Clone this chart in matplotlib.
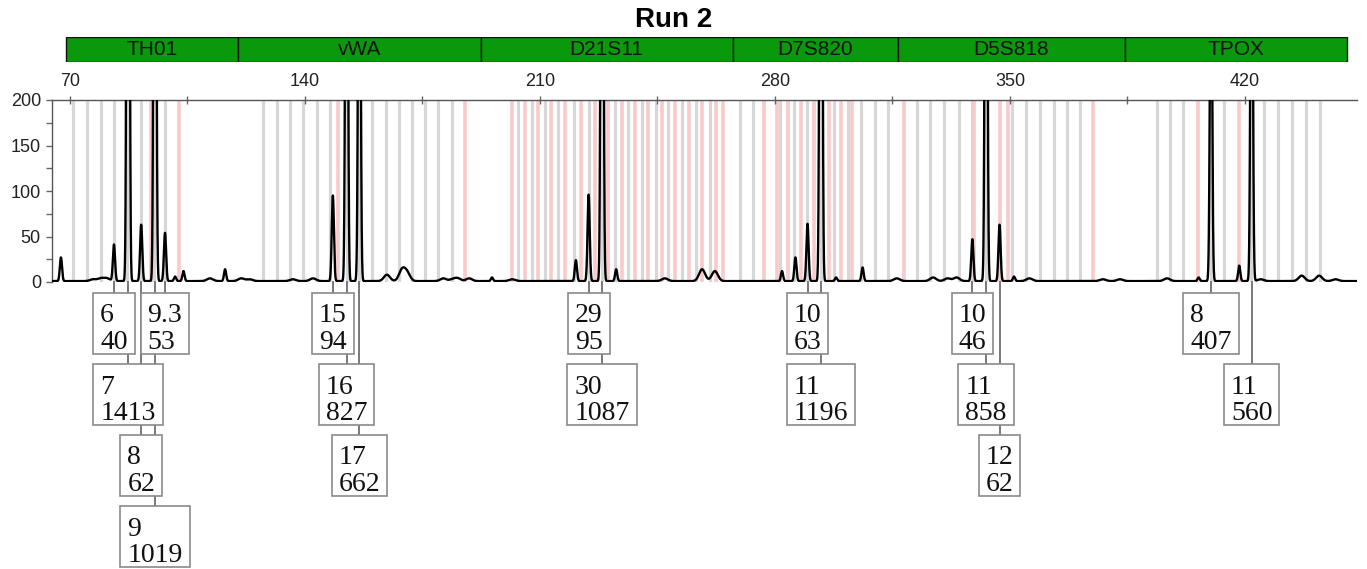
import numpy as np
import matplotlib
matplotlib.use("Agg")
import matplotlib.pyplot as plt
from matplotlib.patches import Rectangle

# ---------------- data ----------------
title = "Run 2"
locus_names = ["TH01", "vWA", "D21S11", "D7S820", "D5S818", "TPOX"]
locus_starts = [68.8, 120.0, 192.3, 267.4, 316.6, 384.3]
locus_ends = [120.0, 192.3, 267.4, 316.6, 384.3, 450.3]

x_ticks_major = [70, 140, 210, 280, 350, 420]
x_ticks_minor = [105, 175, 245, 315, 385]
y_ticks_major = [0, 50, 100, 150, 200]
y_ticks_minor = [25, 75, 125, 175]

allele_names = ["6", "7", "8", "9", "9.3", "15", "16", "17", "29", "30",
                "10", "11", "10", "11", "12", "8", "11"]
allele_sizes = [83.1, 87.3, 91.2, 95.3, 98.3, 148.3, 152.4, 156.2, 224.5, 228.5,
                289.7, 293.7, 338.8, 342.9, 346.9, 409.9, 422.0]
allele_heights = [40, 1413, 62, 1019, 53, 94, 827, 662, 95, 1087,
                  63, 1196, 46, 858, 62, 407, 560]

# unlabeled sharp peaks (stutter / artefacts)
other_sizes = [67.3, 101.3, 103.8, 116.2, 220.7, 232.7, 195.7, 282.1, 286.1,
               298.2, 306.1, 351.2, 406.2, 418.3]
other_heights = [26, 5, 11, 13, 23, 13, 4, 11, 26, 4, 15, 5, 4, 17]

# broad low baseline bumps
bump_sizes = [76.9, 79.2, 81.0, 111.7, 121.0, 123.5, 136.4, 142.4, 164.4, 168.9,
              170.4, 181.2, 184.0, 185.5, 188.9, 201.7, 247.2, 258.3, 262.1, 316.3,
              327.1, 331.4, 334.1, 355.8, 377.7, 382.8, 396.8, 424.7, 436.9, 442.1,
              447.0]
bump_heights = [2, 3, 3, 3, 3, 2, 2, 3, 7, 12, 9, 3, 2, 3, 3, 2, 3, 13, 11, 3,
                4, 3, 4, 3, 2, 2, 3, 2, 6, 6, 2]

gray_bins = [71.04, 75.06, 79.09, 83.11, 87.13, 91.15, 95.17, 98.45,
             127.64, 131.66, 135.54, 139.56, 143.58, 147.60, 152.37, 156.24, 160.11,
             163.99, 167.86, 171.88, 175.90, 179.77, 183.79,
             203.46, 207.48, 211.50, 215.37, 220.14, 224.46, 228.48, 232.35, 236.37,
             240.39, 244.42, 248.29, 252.31, 256.48, 260.65,
             269.59, 273.46, 281.65, 285.67, 289.69, 293.72, 297.74, 301.76, 305.78,
             309.80, 313.82,
             322.31, 326.19, 330.36, 334.68, 338.85, 342.87, 350.61, 354.78, 358.95,
             362.98, 367.00, 370.87,
             393.81, 397.68, 401.70, 409.89, 413.77, 421.96, 425.83, 430.00, 434.17,
             438.34, 442.36]
pink_bins = [94.13, 102.47, 149.98, 187.67,
             201.67, 205.54, 209.41, 213.43, 217.46, 222.22, 226.39, 230.41, 234.29,
             238.31, 242.33, 246.35, 250.22, 254.25, 258.27, 262.44, 264.52,
             276.74, 280.61, 283.89, 287.76, 291.63, 296.10, 299.67, 302.95, 318.44,
             339.29, 347.04, 349.42, 374.74, 406.02, 418.09]

# ---------------- layout ----------------
W, H = 1367, 569
XLIM = (64.64, 453.39)
PX_PER_BP = 1305 / (XLIM[1] - XLIM[0])

plt.rcParams["font.family"] = ["Liberation Sans", "DejaVu Sans"]
fig = plt.figure(figsize=(W / 100, H / 100), dpi=100)

# main electropherogram axes
ax = fig.add_axes([52 / W, 1 - 282 / H, 1305 / W, 182 / H])
ax.set_xlim(*XLIM)
ax.set_ylim(0, 200)

for b in gray_bins:
    ax.axvline(b, color="#d7d7d7", lw=2.3, zorder=1)
for b in pink_bins:
    ax.axvline(b, color="#f8caca", lw=2.6, zorder=1)

xs = np.linspace(XLIM[0], XLIM[1], 40000)
trace = np.full_like(xs, 1.0)
for s, h in zip(allele_sizes, allele_heights):
    trace += h * np.exp(-0.5 * ((xs - s) / 0.32) ** 2)
for s, h in zip(other_sizes, other_heights):
    trace += h * np.exp(-0.5 * ((xs - s) / 0.32) ** 2)
for s, h in zip(bump_sizes, bump_heights):
    trace += h * np.exp(-0.5 * ((xs - s) / 0.9) ** 2)
ax.plot(xs, trace, color="black", lw=1.7, zorder=3, solid_joinstyle="round")

ax.xaxis.tick_top()
ax.set_xticks(x_ticks_major)
ax.set_xticks(x_ticks_minor, minor=True)
ax.set_xticklabels([str(v) for v in x_ticks_major])
ax.tick_params(axis="x", which="both", direction="inout", length=6, width=1,
               color="#666666", labelsize=13, pad=4, labelcolor="#222222")
ax.set_yticks(y_ticks_major)
ax.set_yticks(y_ticks_minor, minor=True)
ax.set_yticklabels([str(v) for v in y_ticks_major])
ax.tick_params(axis="y", which="both", direction="out", length=4, width=1,
               color="#666666", labelsize=13, pad=4, labelcolor="#222222")
for side in ["right", "bottom"]:
    ax.spines[side].set_visible(False)
for side in ["top", "left"]:
    ax.spines[side].set_color("#555555")
    ax.spines[side].set_linewidth(1.0)

# locus bar
bar_ax = fig.add_axes([52 / W, 1 - 62.3 / H, 1305 / W, 25.3 / H])
bar_ax.set_xlim(*XLIM)
bar_ax.set_ylim(0, 1)
bar_ax.axis("off")
for name, s, e in zip(locus_names, locus_starts, locus_ends):
    bar_ax.add_patch(Rectangle((s, 0), e - s, 1, facecolor="#0a990a",
                               edgecolor="#111111", lw=1.0))
    bar_ax.text((s + e) / 2, 0.5, name, ha="center", va="center",
                fontsize=15, color="#111111")

fig.text(674 / W, 1 - 20 / H, title, ha="center", va="center",
         fontsize=20, fontweight="bold")

# allele label boxes
lab_ax = fig.add_axes([52 / W, 0, 1305 / W, 287 / H])
lab_ax.set_xlim(*XLIM)
lab_ax.set_ylim(287, 0)
lab_ax.axis("off")

renderer = fig.canvas.get_renderer()
ROW_TOP0, ROW_STEP, BOX_H = 11, 71, 61
row_end = []
order = np.argsort(allele_sizes)
for i in order:
    name, size, h = allele_names[i], allele_sizes[i], allele_heights[i]
    t1 = lab_ax.text(0, 0, name, fontsize=20, family="Liberation Serif",
                     color="#111111", ha="left", va="baseline", zorder=5)
    t2 = lab_ax.text(0, 0, str(h), fontsize=20, family="Liberation Serif",
                     color="#111111", ha="left", va="baseline", zorder=5)
    w_px = max(t1.get_window_extent(renderer).width,
               t2.get_window_extent(renderer).width) + 14
    cx_px = (size - XLIM[0]) * PX_PER_BP
    left_px, right_px = cx_px - w_px / 2, cx_px + w_px / 2
    row = 0
    while row < len(row_end) and left_px < row_end[row] + 3:
        row += 1
    if row == len(row_end):
        row_end.append(right_px)
    else:
        row_end[row] = max(row_end[row], right_px)
    top = ROW_TOP0 + ROW_STEP * row
    left_bp = size - (w_px / 2) / PX_PER_BP
    lab_ax.plot([size, size], [0, top], color="#6e6e6e", lw=1.3, zorder=2,
                clip_on=False)
    lab_ax.add_patch(Rectangle((left_bp, top), w_px / PX_PER_BP, BOX_H,
                               facecolor="white", edgecolor="#8a8a8a", lw=1.2,
                               zorder=4))
    tx = left_bp + 7 / PX_PER_BP
    t1.set_position((tx, top + 29.5))
    t2.set_position((tx, top + 56))

fig.savefig("out.png", dpi=100)
